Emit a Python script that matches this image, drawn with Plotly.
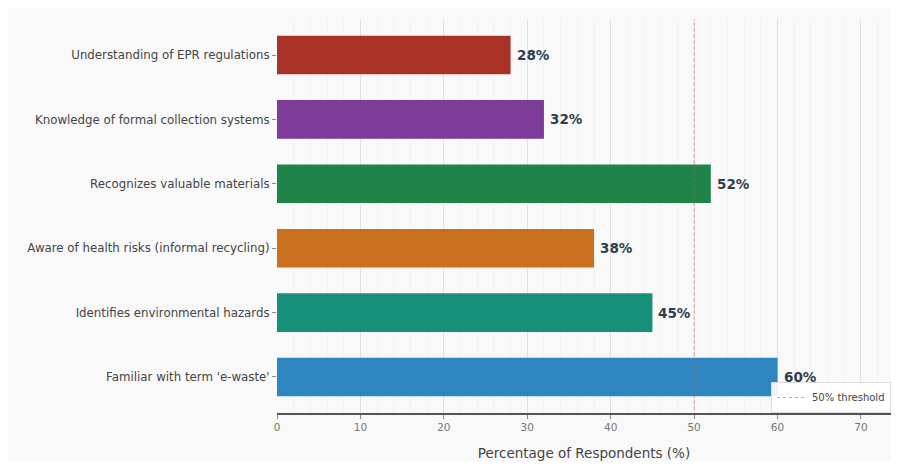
import plotly.graph_objects as go

categories = [
    "Familiar with term 'e-waste'",
    "Identifies environmental hazards",
    "Aware of health risks (informal recycling)",
    "Recognizes valuable materials",
    "Knowledge of formal collection systems",
    "Understanding of EPR regulations",
]
values = [60, 45, 38, 52, 32, 28]
colors = ["#2e86c1", "#17907a", "#ca6f1e", "#1e8449", "#7d3c98", "#a93226"]
threshold = 50
x_ticks = [0, 10, 20, 30, 40, 50, 60, 70]

fig = go.Figure()
fig.add_trace(go.Bar(
    y=categories, x=values, orientation="h",
    marker=dict(color=colors, line=dict(width=0)),
    width=0.6,
    showlegend=False,
    hoverinfo="skip",
))
for c, v in zip(categories, values):
    fig.add_annotation(
        x=v, y=c, text=f"<b>{v}%</b>", showarrow=False,
        xanchor="left", xshift=4,
        font=dict(size=13.5, color="#2c3e50", family="DejaVu Sans"),
    )
fig.add_trace(go.Scatter(
    x=[threshold, threshold], y=[-0.6, 5.6],
    mode="lines", line=dict(color="rgba(231,76,60,0.6)", width=1, dash="dot"),
    name="50% threshold", yaxis="y2", showlegend=True,
))

fig.update_layout(
    width=883, height=453,
    margin=dict(l=269, r=0, t=11, b=48),
    paper_bgcolor="#f9f9f9",
    plot_bgcolor="#f9f9f9",
    font=dict(family="DejaVu Sans", size=12, color="#555"),
    xaxis=dict(
        range=[0, 73.6], tickvals=x_ticks, ticktext=[str(t) for t in x_ticks],
        showgrid=True, gridcolor="#e0e0e0", gridwidth=1,
        minor=dict(dtick=2, showgrid=True, gridcolor="#f2f2f2"),
        showline=True, linecolor="#555", linewidth=1.5,
        ticks="outside", ticklen=4, tickcolor="#888",
        tickfont=dict(size=10.5, color="#777"), zeroline=False,
        title=dict(text="Percentage of Respondents (%)", font=dict(size=13.5, color="#444"), standoff=16),
    ),
    yaxis=dict(
        range=[-0.56, 5.56], showgrid=True, gridcolor="rgba(0,0,0,0)",
        minor=dict(dtick=0.25, showgrid=True, gridcolor="#f2f2f2"),
        ticks="outside", ticklen=4, tickcolor="#888",
        tickfont=dict(size=11.8, color="#444"), showline=False,
    ),
    yaxis2=dict(range=[-0.56, 5.56], overlaying="y", visible=False),
    legend=dict(
        x=1.0, y=0.0, xanchor="right", yanchor="bottom",
        bgcolor="rgba(255,255,255,0.92)", bordercolor="#ddd", borderwidth=1,
        font=dict(size=10, color="#444"),
        itemwidth=30, tracegroupgap=0,
    ),
)

fig.write_html("out.html")
